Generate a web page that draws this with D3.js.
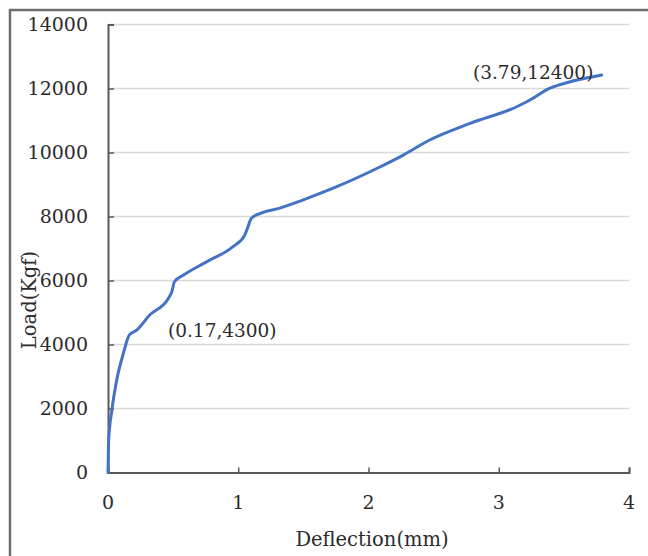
<!DOCTYPE html>
<html><head><meta charset="utf-8">
<script src="https://cdn.jsdelivr.net/npm/d3@7"></script>
<style>html,body{margin:0;padding:0;background:#fff;}svg{display:block;}</style>
</head><body>
<script>
const deflection = [0, 0.005, 0.03, 0.067, 0.118, 0.164, 0.22, 0.32, 0.463, 0.49, 0.51, 0.58, 0.76, 0.96, 1.05, 1.07, 1.10, 1.17, 1.32, 1.50, 1.756, 2.063, 2.267, 2.47, 2.78, 3.138, 3.24, 3.393, 3.547, 3.726, 3.79];
const load       = [0, 1000, 1950, 2890, 3720, 4300, 4450, 4920, 5440, 5650, 5960, 6170, 6590, 7060, 7420, 7630, 7940, 8100, 8260, 8520, 8930, 9500, 9920, 10390, 10910, 11430, 11640, 12010, 12210, 12370, 12420];
const xTicks = [0, 1, 2, 3, 4];
const yTicks = [0, 2000, 4000, 6000, 8000, 10000, 12000, 14000];
const annotations = [{x: 0.17, y: 4300, label: "(0.17,4300)"}, {x: 3.79, y: 12400, label: "(3.79,12400)"}];

const W = 648, H = 556;
const m = {left: 108, top: 24.5, right: 19, bottom: 83.5};
const font = "'DejaVu Serif', serif";
const textColor = "#2b2b2b";
const svg = d3.select("body").append("svg").attr("width", W).attr("height", H);

// outer border
svg.append("rect").attr("x", 10).attr("y", 10).attr("width", W + 20).attr("height", H + 20)
  .attr("fill", "none").attr("stroke", "#6e6e6e").attr("stroke-width", 2.5);

const x = d3.scaleLinear().domain([0, 4]).range([m.left, W - m.right]);
const y = d3.scaleLinear().domain([0, 14000]).range([H - m.bottom, m.top]);

// gridlines
svg.append("g").selectAll("line").data(yTicks.filter(d => d > 0)).join("line")
  .attr("x1", x(0)).attr("x2", x(4)).attr("y1", d => y(d)).attr("y2", d => y(d))
  .attr("stroke", "#d9d9d9").attr("stroke-width", 1.5);

// axes
const yAxis = svg.append("g").attr("transform", `translate(${x(0)},0)`)
  .call(d3.axisRight(y).tickValues(yTicks).tickSize(6).tickFormat(""));
const xAxis = svg.append("g").attr("transform", `translate(0,${y(0)})`)
  .call(d3.axisTop(x).tickValues(xTicks).tickSize(5).tickFormat(""));
[yAxis, xAxis].forEach(g => {
  g.select(".domain").attr("stroke", "#595959").attr("stroke-width", 2);
  g.selectAll(".tick line").attr("stroke", "#595959").attr("stroke-width", 1.5);
});

// tick labels
svg.append("g").selectAll("text").data(yTicks).join("text")
  .attr("x", 88).attr("y", d => y(d)).attr("dy", "0.36em").attr("text-anchor", "end")
  .attr("font-family", font).attr("font-size", 19).attr("fill", textColor).text(d => d);
svg.append("g").selectAll("text").data(xTicks).join("text")
  .attr("x", d => x(d)).attr("y", 509).attr("text-anchor", "middle")
  .attr("font-family", font).attr("font-size", 19).attr("fill", textColor).text(d => d);

// axis titles
svg.append("text").attr("x", 372).attr("y", 546).attr("text-anchor", "middle")
  .attr("font-family", font).attr("font-size", 19.5).attr("fill", textColor).text("Deflection(mm)");
svg.append("text").attr("transform", "translate(36,300) rotate(-90)").attr("text-anchor", "middle")
  .attr("font-family", font).attr("font-size", 19.5).attr("fill", textColor).text("Load(Kgf)");

// curve
const data = deflection.map((d, i) => [d, load[i]]);
svg.append("path").datum(data)
  .attr("d", d3.line().x(d => x(d[0])).y(d => y(d[1])).curve(d3.curveMonotoneX))
  .attr("fill", "none").attr("stroke", "#4472C4").attr("stroke-width", 3).attr("stroke-linecap", "round");

// annotations
svg.append("text").attr("x", 168).attr("y", 337)
  .attr("font-family", font).attr("font-size", 18.5).attr("fill", textColor).text(annotations[0].label);
svg.append("text").attr("x", 473).attr("y", 79)
  .attr("font-family", font).attr("font-size", 18.5).attr("fill", textColor).text(annotations[1].label);
</script>
</body></html>
